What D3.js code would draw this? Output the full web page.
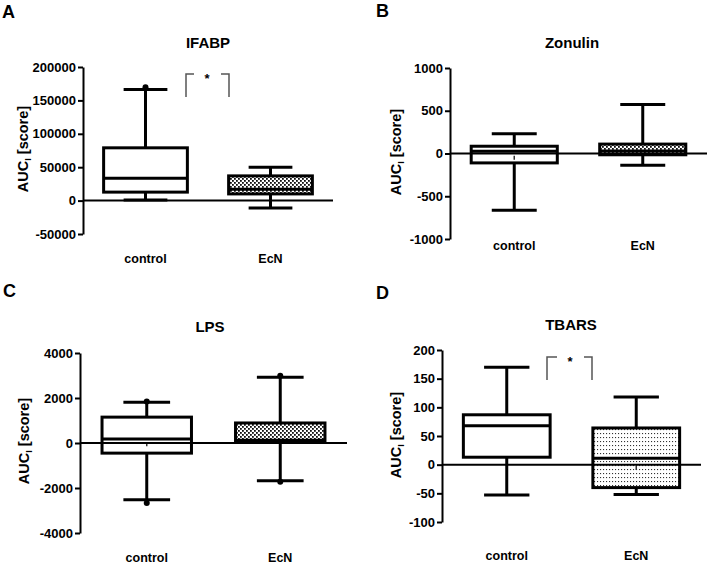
<!DOCTYPE html>
<html><head><meta charset="utf-8">
<script src="https://cdn.jsdelivr.net/npm/d3@7"></script>
<style>
body{margin:0;background:#fff}
svg{display:block;font-family:"Liberation Sans",Arial,Helvetica,sans-serif;font-weight:bold}
</style>
</head><body>
<svg id="chart" width="708" height="568"></svg>
<script>
// ---------- data ----------
const groups = ["control", "EcN"];
const panelLetters = ["A", "B", "C", "D"];
const titles = ["IFABP", "Zonulin", "LPS", "TBARS"];
const yDomains = [[-50000, 200000], [-1000, 1000], [-4000, 4000], [-100, 200]];
const yTicks = [
  [-50000, 0, 50000, 100000, 150000, 200000],
  [-1000, -500, 0, 500, 1000],
  [-4000, -2000, 0, 2000, 4000],
  [-100, -50, 0, 50, 100, 150, 200]
];
const whiskerLow  = [[750, -11000], [-663, -137], [-2520, -1675], [-53, -52]];
const q1          = [[12700, 10000], [-110, -15], [-450, 30], [13, -40]];
const median      = [[33500, 17000], [25, 30], [180, 120], [68, 11]];
const q3          = [[79000, 37000], [85, 110], [1150, 890], [87, 64]];
const whiskerHigh = [[166500, 50000], [230, 573], [1810, 2920], [170, 118]];
const outliers    = [[[169500], []], [[], []], [[1850, -2670], [2990, -1720]], [[], []]];
const means       = [[null, null], [-50, null], [-50, null], [null, -6]];
const significant = [true, false, false, true];
const sigLabel = "*";
const yLabelMain = "AUC", yLabelSub = "I", yLabelRest = " [score]";

// ---------- layout (positions only) ----------
const layout = [
  {axisX: 83, xEnd: 333, yTop: 67, yBot: 234, titleX: 208, titleY: 48, letX: 2, letY: 18, labX: 28, labY: 149, xLabY: 263,
   br: {x1: 186, x2: 229, top: 74, bot: 97, sx: 207, sy: 83}, fill: "dots"},
  {axisX: 450, xEnd: 707, yTop: 68, yBot: 239, titleX: 572, titleY: 48, letX: 376, letY: 17, labX: 401, labY: 152, xLabY: 250,
   br: null, fill: "dots"},
  {axisX: 80, xEnd: 347, yTop: 353, yBot: 533, titleX: 210, titleY: 332, letX: 3, letY: 297, labX: 29, labY: 441, xLabY: 562,
   br: null, fill: "dots"},
  {axisX: 442, xEnd: 701, yTop: 350, yBot: 522, titleX: 571, titleY: 330, letX: 376, letY: 299, labX: 401, labY: 435, xLabY: 560,
   br: {x1: 547, x2: 592, top: 357, bot: 380, sx: 570, sy: 366}, fill: "sparse"}
];

const svg = d3.select("#chart");
const defs = svg.append("defs");
// checker dot pattern
const p1 = defs.append("pattern").attr("id", "dots").attr("patternUnits", "userSpaceOnUse")
  .attr("width", 4).attr("height", 4);
p1.append("rect").attr("width", 4).attr("height", 4).attr("fill", "#fff");
p1.append("rect").attr("x", 0).attr("y", 0).attr("width", 1.8).attr("height", 1.8).attr("fill", "#111");
p1.append("rect").attr("x", 2).attr("y", 2).attr("width", 1.8).attr("height", 1.8).attr("fill", "#111");
// sparse rows of dots
const p2 = defs.append("pattern").attr("id", "sparse").attr("patternUnits", "userSpaceOnUse")
  .attr("width", 3).attr("height", 4);
p2.append("rect").attr("width", 3).attr("height", 4).attr("fill", "#fff");
p2.append("rect").attr("x", 0).attr("y", 1).attr("width", 1.1).attr("height", 1.1).attr("fill", "#333");

layout.forEach((L, i) => {
  const g = svg.append("g");
  const y = d3.scaleLinear().domain(yDomains[i]).range([L.yBot, L.yTop]);
  const x = d3.scalePoint().domain(groups).range([L.axisX, L.xEnd]).padding(0.5);
  const step = x.step();
  const boxW = 0.67 * step, capW = 0.35 * step;

  // panel letter
  g.append("text").attr("x", L.letX).attr("y", L.letY).attr("font-size", 18).attr("fill", "#000")
    .text(panelLetters[i]);
  // title
  g.append("text").attr("x", L.titleX).attr("y", L.titleY).attr("text-anchor", "middle")
    .attr("font-size", 15).attr("fill", "#000").text(titles[i]);

  // y axis
  const ax = g.append("g").attr("transform", `translate(${L.axisX},0)`)
    .call(d3.axisLeft(y).tickValues(yTicks[i]).tickSize(5).tickSizeOuter(0).tickPadding(2)
      .tickFormat(d => String(d)));
  ax.attr("font-family", null).attr("font-size", null);
  ax.select(".domain").attr("stroke", "#000").attr("stroke-width", 2);
  ax.selectAll(".tick line").attr("stroke", "#000").attr("stroke-width", 2);
  ax.selectAll(".tick text").attr("fill", "#000").attr("font-size", 13).attr("font-weight", "bold");

  // y label
  const yl = g.append("text").attr("transform", `translate(${L.labX},${L.labY}) rotate(-90)`)
    .attr("text-anchor", "middle").attr("font-size", 14.5).attr("fill", "#000");
  yl.append("tspan").text(yLabelMain);
  yl.append("tspan").attr("font-size", 9).attr("dy", 3).text(yLabelSub);
  yl.append("tspan").attr("dy", -3).text(yLabelRest);

  // boxes
  groups.forEach((grp, j) => {
    const cx = x(grp);
    const bg = g.append("g").attr("stroke", "#000").attr("stroke-width", 3);
    bg.append("line").attr("x1", cx).attr("x2", cx)
      .attr("y1", y(whiskerLow[i][j])).attr("y2", y(whiskerHigh[i][j]));
    [whiskerLow[i][j], whiskerHigh[i][j]].forEach(v => {
      bg.append("line").attr("x1", cx - capW / 2).attr("x2", cx + capW / 2).attr("y1", y(v)).attr("y2", y(v));
    });
    bg.append("rect").attr("x", cx - boxW / 2).attr("y", y(q3[i][j]))
      .attr("width", boxW).attr("height", y(q1[i][j]) - y(q3[i][j]))
      .attr("fill", j === 0 ? "#fff" : `url(#${L.fill})`);
    bg.append("line").attr("x1", cx - boxW / 2).attr("x2", cx + boxW / 2)
      .attr("y1", y(median[i][j])).attr("y2", y(median[i][j]));
    outliers[i][j].forEach(v => {
      g.append("circle").attr("cx", cx).attr("cy", y(v)).attr("r", 3).attr("fill", "#000");
    });
    if (means[i][j] !== null) {
      g.append("line").attr("x1", cx).attr("x2", cx).attr("y1", y(means[i][j]) - 2).attr("y2", y(means[i][j]) + 2)
        .attr("stroke", "#333").attr("stroke-width", 1.5);
    }
    // x label
    g.append("text").attr("x", cx).attr("y", L.xLabY).attr("text-anchor", "middle")
      .attr("font-size", 12.5).attr("fill", "#000").text(grp);
  });

  // zero line
  g.append("line").attr("x1", L.axisX).attr("x2", L.xEnd).attr("y1", y(0)).attr("y2", y(0))
    .attr("stroke", "#000").attr("stroke-width", 2);

  // significance bracket
  if (significant[i] && L.br) {
    const b = L.br;
    const bp = d3.path();
    bp.moveTo(b.x1, b.bot); bp.lineTo(b.x1, b.top); bp.lineTo(b.sx - 13, b.top);
    bp.moveTo(b.sx + 14, b.top); bp.lineTo(b.x2, b.top); bp.lineTo(b.x2, b.bot);
    g.append("path").attr("d", bp.toString()).attr("fill", "none").attr("stroke", "#555").attr("stroke-width", 1.5);
    g.append("text").attr("x", b.sx).attr("y", b.sy).attr("text-anchor", "middle")
      .attr("font-size", 13).attr("fill", "#000").text(sigLabel);
  }
});
</script>
</body></html>
